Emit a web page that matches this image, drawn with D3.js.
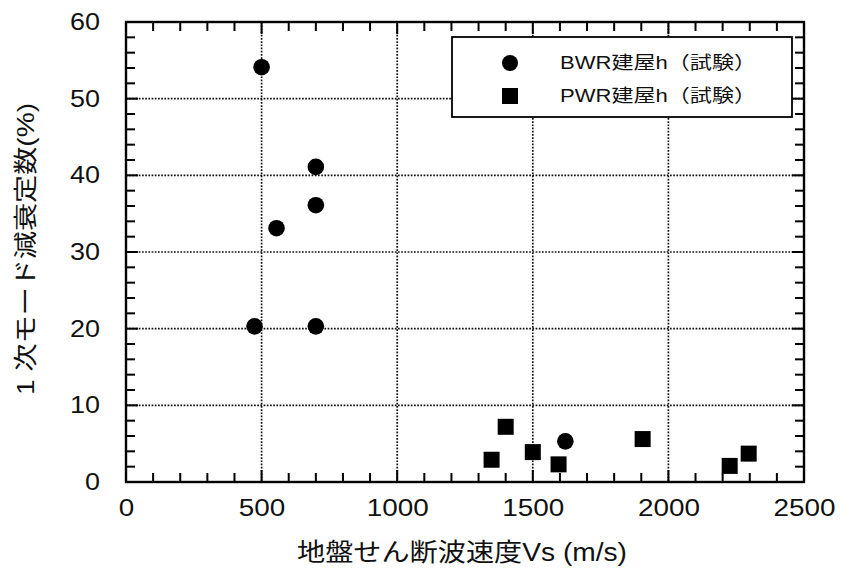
<!DOCTYPE html>
<html><head><meta charset="utf-8">
<script src="https://cdn.jsdelivr.net/npm/d3@7"></script>
<style>body{margin:0;background:#fff}text{font-family:"Liberation Sans",Arial,"Noto Sans CJK JP",sans-serif}</style>
</head><body><svg id="c" width="841" height="568"></svg>
<script>
const bwrVs = [500, 700, 700, 555, 474, 700, 1620];
const bwrH  = [54.1, 41.1, 36.1, 33.1, 20.3, 20.3, 5.3];
const pwrVs = [1348, 1400, 1500, 1595, 1905, 2226, 2296];
const pwrH  = [2.9, 7.2, 3.9, 2.3, 5.6, 2.1, 3.7];
const xTicks = [0, 500, 1000, 1500, 2000, 2500];
const yTicks = [0, 10, 20, 30, 40, 50, 60];
const legendLabels = ["BWR建屋h（試験）", "PWR建屋h（試験）"];
const xTitle = "地盤せん断波速度Vs (m/s)";
const yTitle = "1 次モード減衰定数(%)";

const svg = d3.select("#c");
const L = 126, R = 804, T = 22, B = 482;
const x = d3.scaleLinear().domain([0, 2500]).range([L, R]);
const y = d3.scaleLinear().domain([0, 60]).range([B, T]);
const font = '"Liberation Sans",Arial,"Noto Sans CJK JP",sans-serif';

// grid
const g = svg.append("g");
g.selectAll("line.gx").data(xTicks.slice(1, -1)).join("line")
  .attr("x1", d => x(d)).attr("x2", d => x(d)).attr("y1", T).attr("y2", B)
  .attr("stroke", "#111").attr("stroke-width", 1.7).attr("stroke-dasharray", "1.7,1.5");
g.selectAll("line.gy").data(yTicks.slice(1, -1)).join("line")
  .attr("x1", L).attr("x2", R).attr("y1", d => y(d)).attr("y2", d => y(d))
  .attr("stroke", "#111").attr("stroke-width", 1.7).attr("stroke-dasharray", "1.7,1.5");

// frame
svg.append("rect").attr("x", L).attr("y", T).attr("width", R - L).attr("height", B - T)
  .attr("fill", "none").attr("stroke", "#000").attr("stroke-width", 2.4);

// inward ticks (minor + major) on all sides, drawn as filled bars
const xMinor = d3.range(0, 2501, 100);
const yMinor = d3.range(0, 61, 2);
const xLen = d => (d % 500 === 0 ? 12 : 9);
const yLen = d => (d % 10 === 0 ? 12 : 9);
const tk = svg.append("g").attr("fill", "#000");
tk.selectAll("rect.xb").data(xMinor).join("rect").attr("class", "xb")
  .attr("x", d => x(d) - 1).attr("width", 2).attr("y", d => B - xLen(d)).attr("height", d => xLen(d));
tk.selectAll("rect.xt").data(xMinor).join("rect").attr("class", "xt")
  .attr("x", d => x(d) - 1).attr("width", 2).attr("y", T).attr("height", d => xLen(d));
tk.selectAll("rect.yl").data(yMinor).join("rect").attr("class", "yl")
  .attr("y", d => y(d) - 1).attr("height", 2).attr("x", L).attr("width", d => yLen(d));
tk.selectAll("rect.yr").data(yMinor).join("rect").attr("class", "yr")
  .attr("y", d => y(d) - 1).attr("height", 2).attr("x", d => R - yLen(d)).attr("width", d => yLen(d));

// tick labels via axes (slightly wide glyphs as in the scan)
const fmt = d3.format("d");
svg.append("g").attr("transform", `translate(0,${B})`)
  .call(d3.axisBottom(x).tickValues(xTicks).tickSize(0).tickPadding(17).tickFormat(fmt))
  .call(s => s.select(".domain").remove())
  .call(s => s.selectAll("text").attr("font-size", 23).attr("fill", "#111").attr("font-family", font)
    .attr("dy", "0.72em").attr("textLength", d => fmt(d).length * 15.5).attr("lengthAdjust", "spacingAndGlyphs"));
svg.append("g").attr("transform", `translate(${L},0)`)
  .call(d3.axisLeft(y).tickValues(yTicks).tickSize(0).tickPadding(26).tickFormat(fmt))
  .call(s => s.select(".domain").remove())
  .call(s => s.selectAll("text").attr("font-size", 23).attr("fill", "#111").attr("font-family", font)
    .attr("textLength", d => fmt(d).length * 15).attr("lengthAdjust", "spacingAndGlyphs"));

// legend
const lg = svg.append("g");
lg.append("rect").attr("x", 452).attr("y", 37).attr("width", 340).attr("height", 80)
  .attr("fill", "#fff").attr("stroke", "#000").attr("stroke-width", 1.8);
lg.append("circle").attr("cx", 510).attr("cy", 63).attr("r", 8).attr("fill", "#000");
lg.append("rect").attr("x", 502).attr("y", 88).attr("width", 16).attr("height", 16).attr("fill", "#000");
lg.selectAll("text").data(legendLabels).join("text")
  .attr("x", 560).attr("y", (d, i) => 63 + i * 33).attr("dy", "0.35em")
  .attr("font-size", 18).attr("fill", "#111")
  .attr("textLength", 196).attr("lengthAdjust", "spacingAndGlyphs").text(d => d);

// data
svg.append("g").selectAll("circle").data(bwrVs.map((v, i) => [v, bwrH[i]])).join("circle")
  .attr("cx", d => x(d[0])).attr("cy", d => y(d[1])).attr("r", 8.3).attr("fill", "#000");
svg.append("g").selectAll("rect").data(pwrVs.map((v, i) => [v, pwrH[i]])).join("rect")
  .attr("x", d => x(d[0]) - 8).attr("y", d => y(d[1]) - 8).attr("width", 16).attr("height", 16).attr("fill", "#000");

// titles
svg.append("text").attr("x", 462).attr("y", 552).attr("dy", "0.35em").attr("text-anchor", "middle")
  .attr("font-size", 25).attr("fill", "#111")
  .attr("textLength", 330).attr("lengthAdjust", "spacingAndGlyphs").text(xTitle);
svg.append("text").attr("transform", `translate(26,249) rotate(-90)`).attr("dy", "0.35em")
  .attr("text-anchor", "middle").attr("font-size", 24).attr("fill", "#111")
  .attr("textLength", 292).attr("lengthAdjust", "spacingAndGlyphs").text(yTitle);
</script></body></html>
